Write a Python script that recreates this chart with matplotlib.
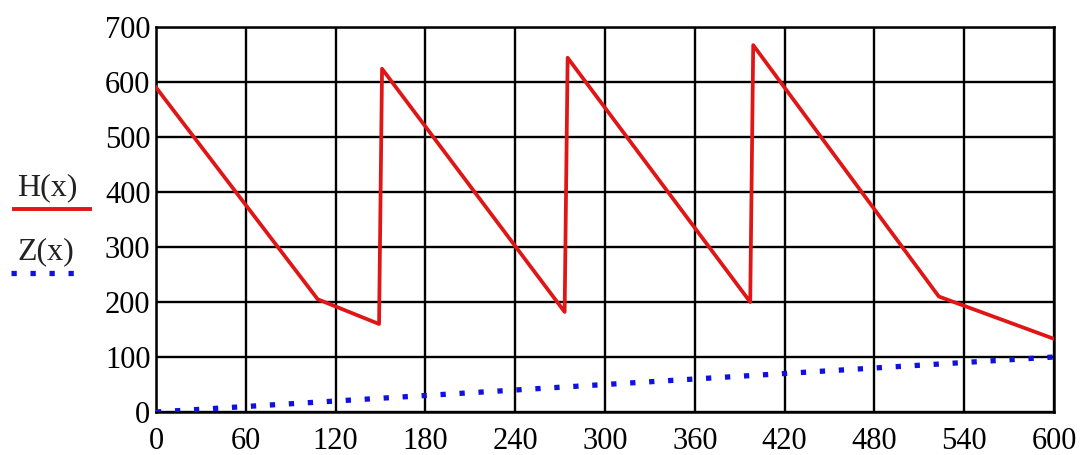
import matplotlib
matplotlib.use('Agg')
import matplotlib.pyplot as plt
from matplotlib.lines import Line2D

# H(x) - sawtooth
h_x = [0, 108, 149, 151, 273, 275, 397, 399, 523, 600]
h_y = [590, 205, 160, 624, 182, 644, 200, 667, 210, 133]

# Z(x) - straight line
z_x = [0, 600]
z_y = [0, 100]

x_ticks = list(range(0, 601, 60))
y_ticks = list(range(0, 701, 100))

plt.rcParams['font.family'] = ['Liberation Serif', 'DejaVu Serif']

fig = plt.figure(figsize=(10.89, 4.55), dpi=100)
ax = fig.add_axes([0.1433, 0.0945, 0.8246, 0.8462])

ax.plot(h_x, h_y, color='#e01515', lw=2.7, solid_joinstyle='round', zorder=3)
ax.plot(z_x, z_y, color='#1010e0', lw=3.8, linestyle=(0, (1, 2.6)),
        dash_capstyle='butt', zorder=3)

ax.set_xlim(0, 600)
ax.set_ylim(0, 700)
ax.set_xticks(x_ticks)
ax.set_yticks(y_ticks)
ax.grid(True, color='black', lw=1.7)
ax.set_axisbelow(True)
for s in ax.spines.values():
    s.set_color('black')
    s.set_linewidth(1.8)
ax.tick_params(length=0, labelsize=22)
ax.tick_params(axis='x', pad=11)
ax.tick_params(axis='y', pad=4)

# legend on the left, label above the line sample
fig.text(0.016, 0.572, 'H(x)', fontsize=23, color='#222222')
fig.add_artist(Line2D([0.013, 0.083], [0.541, 0.541], color='#e01515', lw=2.8,
                      transform=fig.transFigure))
fig.text(0.016, 0.43, 'Z(x)', fontsize=23, color='#222222')
fig.add_artist(Line2D([0.010, 0.072], [0.4, 0.4], color='#1010e0', lw=3.8,
                      linestyle=(0, (1, 2.6)), dash_capstyle='butt',
                      transform=fig.transFigure))

fig.savefig('out.png', dpi=100)
